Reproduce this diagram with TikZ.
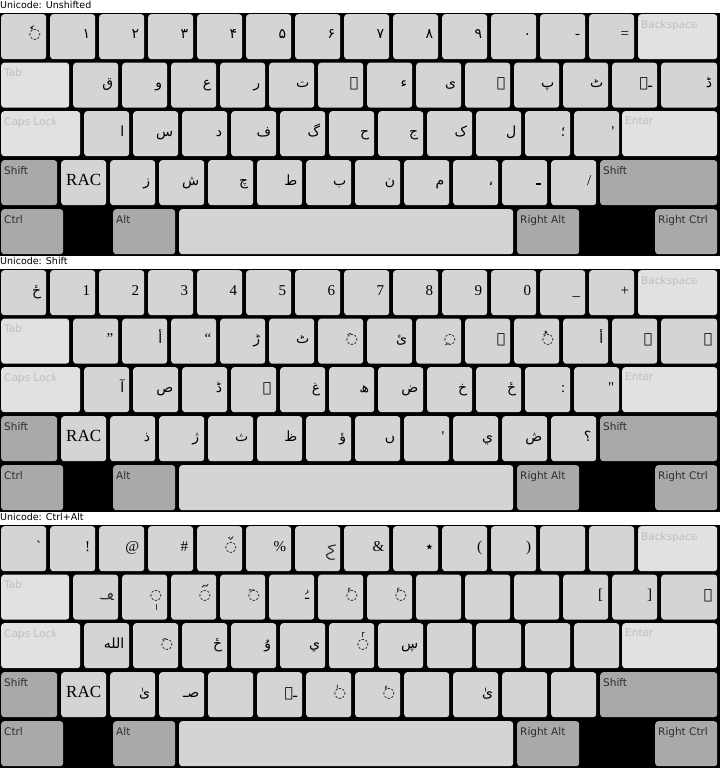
\documentclass[tikz,border=0pt]{standalone}
\usepackage{fontspec}
\setmainfont{Liberation Serif}
\setsansfont{DejaVu Sans}
\newfontfamily\urdufont[Script=Arabic]{DejaVu Sans}
\TeXXeTstate=1
\usetikzlibrary{positioning}

\definecolor{keyface}{RGB}{211,212,214}
\definecolor{keylight}{RGB}{224,225,227}
\definecolor{keymod}{RGB}{168,169,171}
\definecolor{labfaint}{RGB}{190,190,192}
\definecolor{labmod}{RGB}{45,45,45}

\newcommand{\ur}[1]{{\urdufont\fontsize{14}{16}\selectfont\beginR #1\endR}}
\newcommand{\lt}[1]{{\rmfamily\fontsize{15}{17}\selectfont #1}}
\newcommand{\rac}{{\rmfamily\fontsize{17}{19}\selectfont RAC}}

% one row of plain keys, 49pt apart; an empty entry is a blank key
\newcommand{\keyrow}[4]{%
  \foreach \g [count=\i from 0] in {#4} {
    \node[keycap] (#1-\i) at ({#3+49*\i},#2) {};
    \if\relax\detokenize\expandafter{\g}\relax\else
      \node[glyph] (#1-\i-g) at ([xshift=-5pt,yshift=-25pt]#1-\i.north east) {\g};
    \fi
  }}

% a key with its name printed in the corner
\newcommand{\fkey}[7]{%
  \node[#2, minimum width=#6pt] (#1) at (#4,#5) {};
  \node[#3] (#1-t) at ([xshift=3pt,yshift=-6pt]#1.north west) {#7};}

% a whole board: prefix, top, title, row 1, row 2, backslash key, row 3, row 4
\newcommand{\board}[8]{%
\begin{scope}[yshift=-#2pt]
  \node[title] (#1-title) at (0,1) {Unicode: #3};
  \fill[black] (0,13) rectangle (720,256);
  \keyrow{#1-a}{14}{1}{#4}
  \fkey{#1-bksp}{widekey}{faint}{638}{14}{79}{Backspace}
  \fkey{#1-tab}{widekey}{faint}{1}{62.5}{68}{Tab}
  \keyrow{#1-b}{62.5}{73}{#5}
  \node[keycap, minimum width=56pt] (#1-bsl) at (661,62.5) {};
  \node[glyph] (#1-bsl-g) at ([xshift=-5pt,yshift=-25pt]#1-bsl.north east) {#6};
  \fkey{#1-caps}{widekey}{faint}{1}{111}{79}{Caps Lock}
  \keyrow{#1-c}{111}{84}{#7}
  \fkey{#1-ent}{widekey}{faint}{622}{111}{95}{Enter}
  \fkey{#1-lsh}{modkey}{dark}{1}{160}{56}{Shift}
  \keyrow{#1-d}{160}{61}{#8}
  \fkey{#1-rsh}{modkey}{dark}{600}{160}{117}{Shift}
  \fkey{#1-ctl}{modkey}{dark}{1}{209}{62}{Ctrl}
  \fkey{#1-alt}{modkey}{dark}{113}{209}{62}{Alt}
  \node[keycap, minimum width=334pt] (#1-spc) at (179,209) {};
  \fkey{#1-ralt}{modkey}{dark}{517}{209}{62}{Right Alt}
  \fkey{#1-rctl}{modkey}{dark}{655}{209}{62}{Right Ctrl}
\end{scope}}

\begin{document}
\begin{tikzpicture}[
  x=1pt, y=-1pt,
  keycap/.style={rectangle, fill=keyface, rounded corners=3pt, inner sep=0pt,
                 minimum width=45pt, minimum height=45pt, anchor=north west},
  widekey/.style={keycap, fill=keylight},
  modkey/.style={keycap, fill=keymod},
  glyph/.style={inner sep=0pt, anchor=base east},
  keylabel/.style={inner sep=0pt, anchor=north west, font=\sffamily\fontsize{10.5}{12}\selectfont},
  faint/.style={keylabel, text=labfaint},
  dark/.style={keylabel, text=labmod},
  title/.style={inner sep=0pt, anchor=north west, font=\sffamily\fontsize{9.5}{11}\selectfont},
  marklet/.style={line width=0.9pt, draw=black!80, line cap=round}
]
\useasboundingbox[fill=white] (0,0) rectangle (720,768);

% unshifted
\board{u}{0}{Unshifted}
  {\ur{◌ٗ},\ur{۱},\ur{۲},\ur{۳},\ur{۴},\ur{۵},\ur{۶},\ur{۷},\ur{۸},\ur{۹},\ur{۰},\lt{-},\lt{=}}
  {\ur{ق},\ur{و},\ur{ع},\ur{ر},\ur{ت},\ur{ے},\ur{ء},\ur{ی},\ur{ہ},\ur{پ},\ur{ٹ},\ur{ـہ}}
  {\ur{ڈ}}
  {\ur{ا},\ur{س},\ur{د},\ur{ف},\ur{گ},\ur{ح},\ur{ج},\ur{ک},\ur{ل},\ur{؛},\lt{\textquotesingle}}
  {\rac,\ur{ز},\ur{ش},\ur{چ},\ur{ط},\ur{ب},\ur{ن},\ur{م},\ur{،},{},\lt{/}}
% urdu full stop, drawn as its short bar
\fill[black] ([xshift=-11pt,yshift=-23pt]u-d-9.north east) rectangle ++(5,2);

% shift
\board{s}{256}{Shift}
  {\ur{ځ},\lt{1},\lt{2},\lt{3},\lt{4},\lt{5},\lt{6},\lt{7},\lt{8},\lt{9},\lt{0},\lt{\_},\lt{+}}
  {\lt{”},\ur{أ},\lt{“},\ur{ڑ},\ur{ٹ},\ur{◌َ},\ur{ئ},\ur{◌ِ},\ur{ۃ},\ur{◌ُ},\ur{أ},\ur{ۓ}}
  {\ur{ۓ}}
  {\ur{آ},\ur{ص},\ur{ڈ},\ur{ۓ},\ur{غ},\ur{ھ},\ur{ض},\ur{خ},\ur{ځ},\lt{:},\lt{\textquotedbl}}
  {\rac,\ur{ذ},\ur{ژ},\ur{ث},\ur{ظ},\ur{ؤ},\ur{ں},\lt{\textquotesingle},\ur{ي},\ur{ڞ},\ur{؟}}

% ctrl+alt
\board{c}{512}{Ctrl+Alt}
  {\lt{\textasciigrave},\lt{!},\lt{@},\lt{\#},\ur{◌},\lt{\%},{},\lt{\&},\ur{٭},\lt{(},\lt{)},{},{}}
  {{},\ur{◌},\ur{◌},\ur{◌ٓ},\ur{ـ},\ur{◌ٔ},\ur{◌ٔ},{},{},{},\lt{[},\lt{]}}
  {\ur{ۏ}}
  {\ur{الله},\ur{◌َ},\ur{ځ},\ur{ۇ},\ur{ي},\ur{◌},\ur{ڛ},{},{},{},{}}
  {\rac,\ur{ىٰ},\ur{صـ},{},\ur{ـہ},\ur{◌ٰ},\ur{◌ٔ},{},\ur{ىٰ},{},{}}
% signs the fonts lack, drawn as small strokes
\draw[marklet] ([yshift=-3pt]c-b-1-g.south) -- ++(0,5);
\draw[marklet] ([xshift=-1pt,yshift=2pt]c-a-4-g.north) -- ++(3,-3);
\fill[black!80] ([xshift=-2pt,yshift=4pt]c-a-4-g.north) circle (1pt);
\draw[marklet] ([xshift=-3pt,yshift=3pt]c-b-2-g.north) -- ++(2,-2) -- ++(2,1) -- ++(2,-2);
\draw[marklet] ([xshift=-1pt,yshift=2pt]c-c-5-g.north) -- ++(0,-4) -- ++(2,0);
\draw[marklet] ([xshift=-2pt,yshift=4pt]c-b-4-g.north) -- ++(3,-2) -- ++(-1,-2);
\begin{scope}[shift={(c-b-0.north east)}]
  \draw[marklet, line width=1.3pt] plot[smooth] coordinates {(-18,24) (-10,24) (-6,21) (-8,19) (-10,21) (-8,24) (-5,25)};
\end{scope}
\begin{scope}[shift={(c-a-6.north east)}]
  \draw[marklet, line width=1.2pt] plot[smooth] coordinates {(-5,19) (-12,21) (-7,25) (-14,29) (-11,33) (-6,33)};
\end{scope}
\end{tikzpicture}
\end{document}
